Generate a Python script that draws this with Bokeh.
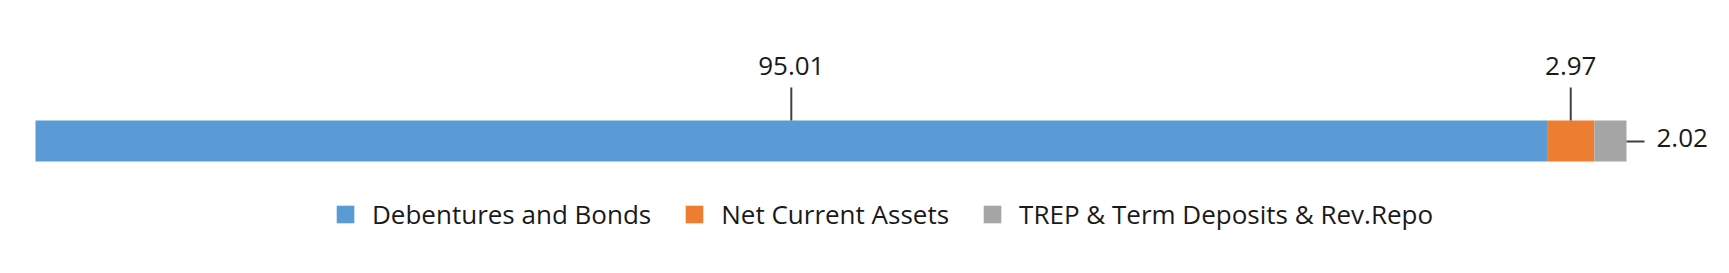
from bokeh.plotting import figure
from bokeh.models import Range1d, Legend, LegendItem
from bokeh.core.properties import value
from bokeh.embed import file_html
from bokeh.resources import INLINE

# ---- data ----
categories = ["Debentures and Bonds", "Net Current Assets", "TREP & Term Deposits & Rev.Repo"]
values = [95.01, 2.97, 2.02]
labels = ["95.01", "2.97", "2.02"]
colors = ["#5B9BD5", "#ED7D31", "#A5A5A5"]

W, H = 1729, 273
X0_PX, X1_PX = 35, 1626
scale = (X1_PX - X0_PX) / sum(values)
x_start = -X0_PX / scale
x_end = sum(values) + (W - X1_PX) / scale

p = figure(width=W, height=H, output_backend="svg", toolbar_location=None,
           x_range=Range1d(x_start, x_end), y_range=Range1d(0, H),
           min_border=0, min_border_left=0, min_border_right=0,
           min_border_top=0, min_border_bottom=0)
p.axis.visible = False
p.grid.visible = False
p.outline_line_color = None
p.background_fill_color = "white"
p.border_fill_color = "white"

bar_y = H - 140.5
bar_h = 41

lefts, rights = [], []
acc = 0.0
for v in values:
    lefts.append(acc)
    acc += v
    rights.append(acc)

renderers = []
for i, cat in enumerate(categories):
    r = p.hbar(y=[bar_y], left=[lefts[i]], right=[rights[i]], height=bar_h,
               fill_color=colors[i], line_color=None)
    renderers.append(r)

FONT = "Open Sans"
TXT = "#1a1a1a"
LEAD = "#404040"
FS = "26px"

# labels above with vertical leaders (first two)
mids = [(lefts[i] + rights[i]) / 2 for i in range(3)]
top = bar_y + bar_h / 2
p.segment(x0=mids[:2], x1=mids[:2], y0=[top] * 2, y1=[H - 87] * 2,
          line_color=LEAD, line_width=2)
p.text(x=mids[:2], y=[H - 65] * 2, text=labels[:2], text_align="center",
       text_baseline="alphabetic", text_font=value(FONT),
       text_font_size=FS, text_color=TXT)

# last label to the right
end = rights[2]
p.segment(x0=[end], x1=[end + 18 / scale], y0=[bar_y - 0.5], y1=[bar_y - 0.5],
          line_color=LEAD, line_width=2)
p.text(x=[end + 30 / scale], y=[H - 137], text=[labels[2]], text_align="left",
       text_baseline="alphabetic", text_font=value(FONT),
       text_font_size=FS, text_color=TXT)

legend = Legend(items=[LegendItem(label=categories[i], renderers=[renderers[i]]) for i in range(3)],
                orientation="horizontal", location=(334, 41),
                glyph_width=22, glyph_height=22, label_standoff=16, spacing=32,
                padding=0, margin=0, border_line_alpha=0, background_fill_alpha=0,
                label_text_font=FONT, label_text_font_size=FS,
                label_text_color=TXT, label_height=22)
p.add_layout(legend)

open("out.html", "w").write(file_html(p, INLINE))
